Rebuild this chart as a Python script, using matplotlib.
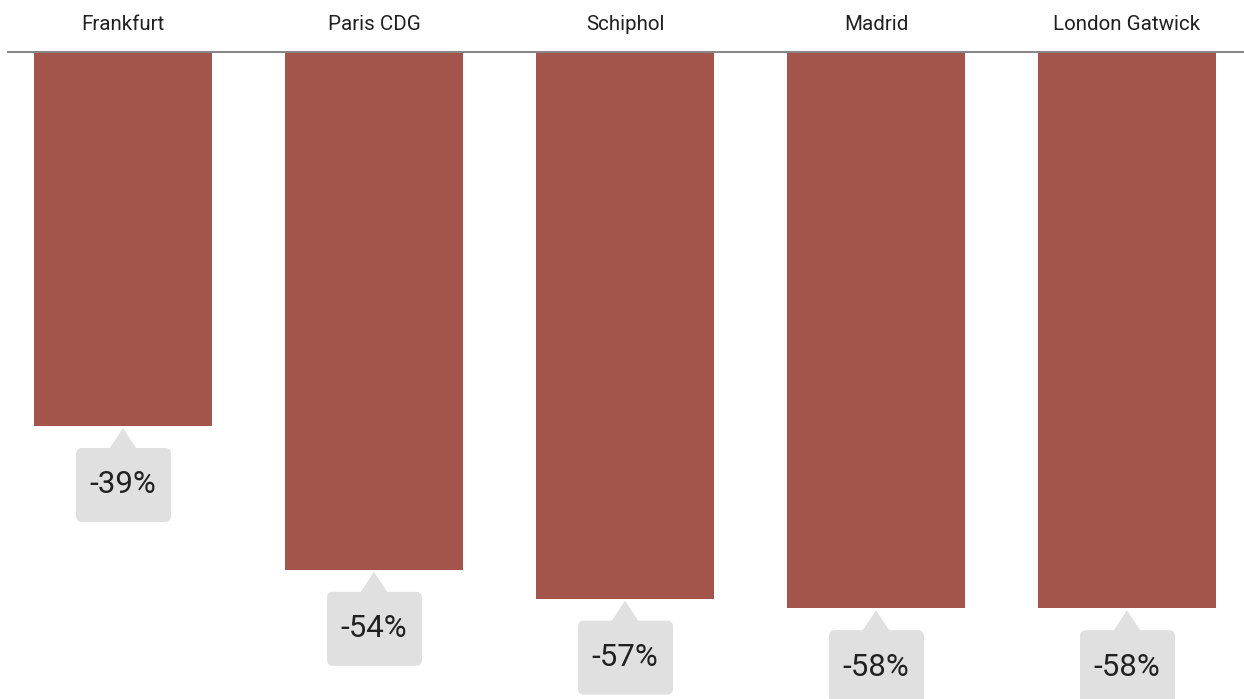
import matplotlib
matplotlib.use("Agg")
import matplotlib.pyplot as plt
import matplotlib.transforms as mtransforms
from matplotlib.patches import FancyBboxPatch, Polygon

plt.rcParams['font.family'] = ['Roboto', 'DejaVu Sans']

airports = ["Frankfurt", "Paris CDG", "Schiphol", "Madrid", "London Gatwick"]
change = [-39, -54, -57, -58, -58]

bar_color = "#a3554b"
box_color = "#e0e0e0"
text_color = "#212121"

fig = plt.figure(figsize=(12.44, 6.99), dpi=100)
ax = fig.add_axes([0, 0, 1, 1])
ax.set_xlim(-0.490, 4.466)
ax.set_ylim(-67.47, 5.42)
ax.axis("off")

xs = list(range(len(airports)))
ax.bar(xs, change, width=0.709, color=bar_color, zorder=2)
ax.axhline(0, xmin=8 / 1244, xmax=1, color="#888888", lw=1.5, zorder=3)

for x, name in zip(xs, airports):
    ax.text(x, 2.85, name, ha="center", va="center", fontsize=14.8, color=text_color)

# callout boxes drawn in inches, anchored at the bottom of each bar
for x, v in zip(xs, change):
    tr = fig.dpi_scale_trans + mtransforms.ScaledTranslation(x, v, ax.transData)
    box = FancyBboxPatch((-0.47, -0.96), 0.95, 0.74,
                         boxstyle="round,pad=0,rounding_size=0.06",
                         fc=box_color, ec="none", transform=tr, zorder=4)
    ax.add_patch(box)
    tip = Polygon([(-0.135, -0.225), (0.135, -0.225), (0.0, -0.02)],
                  closed=True, fc=box_color, ec="none", transform=tr, zorder=4)
    ax.add_patch(tip)
    ax.text(0.0, -0.59, f"{v}%", ha="center", va="center", fontsize=22.5,
            color=text_color, transform=tr, zorder=5)

fig.savefig("out.png", dpi=100)
